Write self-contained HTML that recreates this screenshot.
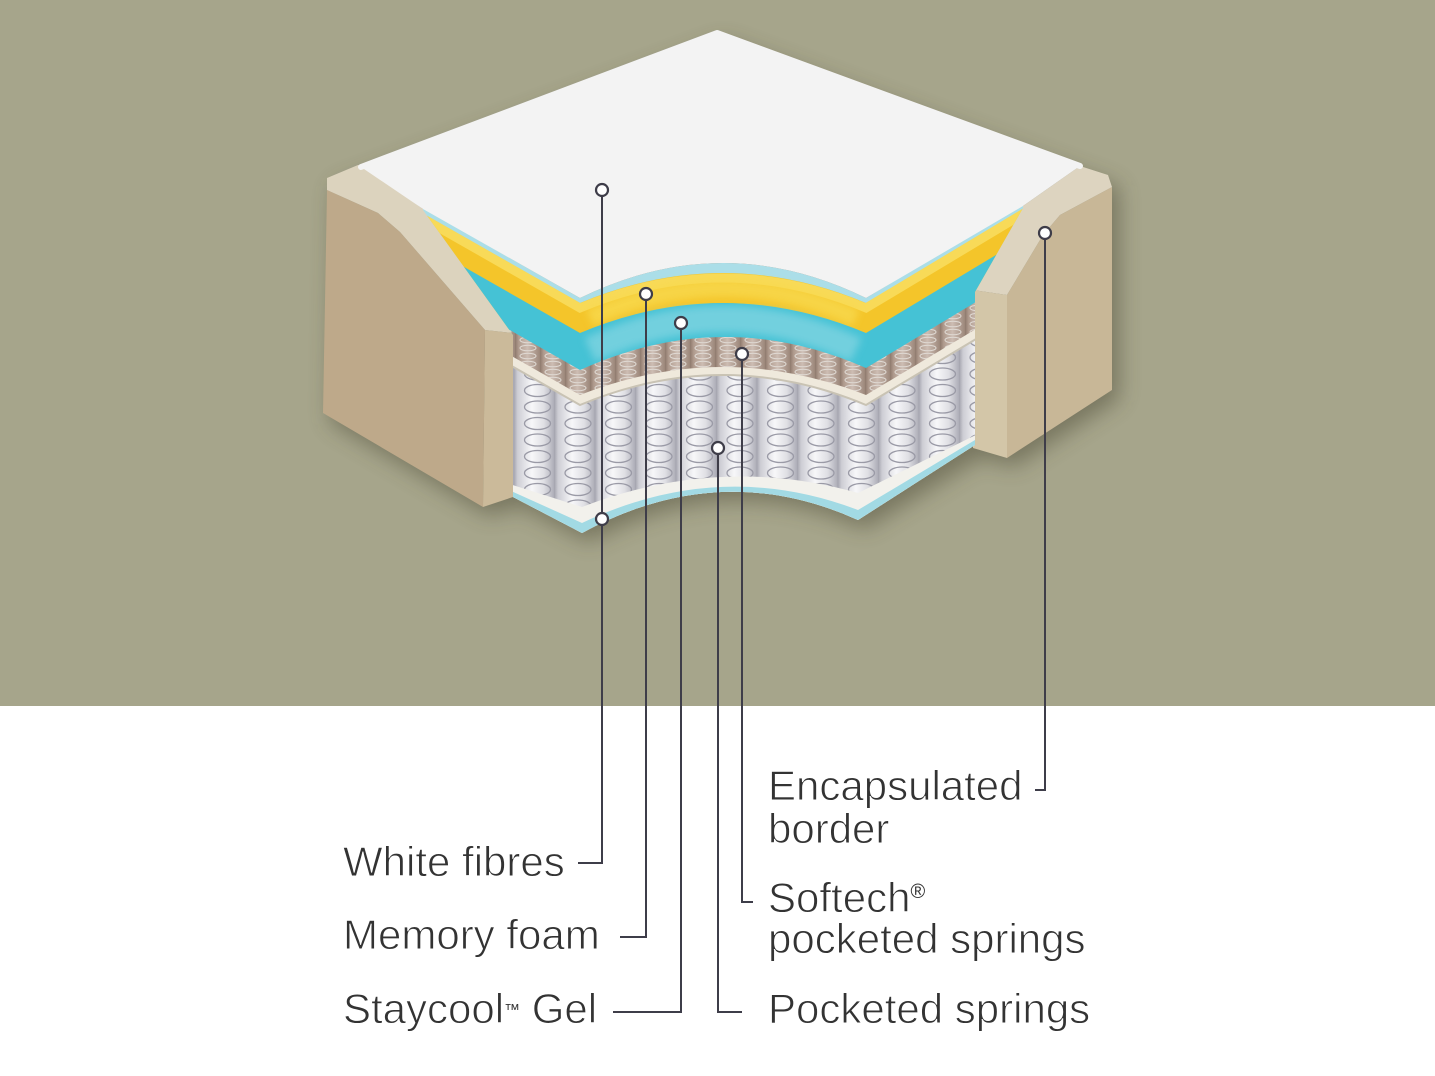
<!DOCTYPE html>
<html>
<head>
<meta charset="utf-8">
<style>
html,body{margin:0;padding:0;background:#fff;}
body{width:1435px;height:1076px;overflow:hidden;}
svg{display:block;}
text{font-family:"Liberation Sans",Arial,sans-serif;fill:#333333;font-size:42px;stroke:#ffffff;stroke-width:0.9px;}
</style>
</head>
<body>
<svg width="1435" height="1076" viewBox="0 0 1435 1076" xmlns="http://www.w3.org/2000/svg">
<defs>
  <clipPath id="cut">
    <path d="M423,150 L423,210 L513,335 L513,497 L582,533 Q720,457.5 858,520 L975,445 L975,292 L1023,208 L1023,150 Z"/>
  </clipPath>
  <filter id="blur" x="-20%" y="-20%" width="140%" height="140%">
    <feGaussianBlur stdDeviation="11"/>
  </filter>
  <filter id="soft6" x="-10%" y="-50%" width="120%" height="200%">
    <feGaussianBlur stdDeviation="4"/>
  </filter>
  <linearGradient id="cyl" x1="0" x2="1" y1="0" y2="0">
    <stop offset="0" stop-color="#a2a2ac"/>
    <stop offset=".1" stop-color="#cdcdd4"/>
    <stop offset=".45" stop-color="#f7f7f9"/>
    <stop offset=".75" stop-color="#dfdfe4"/>
    <stop offset="1" stop-color="#aeaeb8"/>
  </linearGradient>
  <pattern id="big" patternUnits="userSpaceOnUse" x="554" y="3" width="40.5" height="16.5">
    <rect width="40.5" height="16.5" fill="url(#cyl)"/>
    <ellipse cx="24" cy="8" rx="13" ry="6" fill="none" stroke="#9a9aa6" stroke-width="1.3"/>
  </pattern>
  <linearGradient id="cylb" x1="0" x2="1" y1="0" y2="0">
    <stop offset="0" stop-color="#8e796d"/>
    <stop offset=".15" stop-color="#b09b8e"/>
    <stop offset=".5" stop-color="#cdbdb3"/>
    <stop offset="1" stop-color="#9c877a"/>
  </linearGradient>
  <pattern id="soft" patternUnits="userSpaceOnUse" x="515" y="0" width="25" height="8">
    <rect width="25" height="8" fill="url(#cylb)"/>
    <ellipse cx="13" cy="4" rx="8" ry="2.8" fill="none" stroke="#e0dad4" stroke-width="1"/>
  </pattern>
</defs>

<!-- backgrounds -->
<rect x="0" y="0" width="1435" height="706" fill="#a6a58b"/>
<rect x="0" y="706" width="1435" height="370" fill="#ffffff"/>

<!-- drop shadow -->
<path d="M327,178 L717,32 L1112,178 L1112,390 L1007,458 L975,448 L858,520 Q720,457 582,533 L513,497 L483,507 L323,413 Z"
      transform="translate(7,9)" fill="#3f3e2c" opacity=".45" filter="url(#blur)"/>

<!-- LEFT BLOCK -->
<polygon points="327,190 378,213 400,232 485,330 483,507 323,413" fill="#bea98a"/>
<polygon points="485,330 513,333 513,497 483,507" fill="#cbba9a"/>
<polygon points="327,178 358,165 363,166 423,209 513,333 485,330 400,232 378,213 327,190" fill="#dcd3be"/>

<!-- RIGHT BLOCK -->
<polygon points="1007,295 1043,235 1060,215 1112,187 1112,390 1007,458" fill="#c8b797"/>
<polygon points="973,290 1007,295 1007,458 973,448" fill="#d3c6a8"/>
<polygon points="1080,166 1108,175 1112,187 1060,215 1043,235 1007,295 973,290 1023,206" fill="#ddd4c0"/>

<!-- LAYERS (clipped to the cut) -->
<g clip-path="url(#cut)">
  <!-- light blue under white -->
  <path d="M380,184 L580,298 Q723,228 866,298 L1066,178 L1066,650 L380,650 Z" fill="#abdee8"/>
  <!-- yellow memory foam -->
  <path d="M380,189 L580,303 Q723,243 866,303 L1066,183 L1066,650 L380,650 Z" fill="#f4c52a"/>
  <path d="M380,194 L580,308 Q723,248 866,308 L1066,188" fill="none" stroke="#f8da58" stroke-width="9"/>
  <path d="M590,318 Q723,258 856,318" fill="none" stroke="#f8d94e" stroke-width="18" opacity=".8" filter="url(#soft6)"/>
  <!-- gel -->
  <path d="M380,219 L580,333 Q723,273 866,333 L1066,213 L1066,650 L380,650 Z" fill="#45c2d5"/>
  <path d="M590,350 Q723,288 856,350" fill="none" stroke="#86d6e2" stroke-width="26" opacity=".7" filter="url(#soft6)"/>
  <!-- softech springs -->
  <path d="M380,256 L580,370 Q723,305 866,368 L1066,248 L1066,650 L380,650 Z" fill="url(#soft)"/>
  <!-- separator -->
  <path d="M380,281 L580,395 Q723,339 866,395 L1066,275 L1066,650 L380,650 Z" fill="#efe9dc"/>
  <!-- big pocketed springs -->
  <path d="M380,291 L580,405 Q723,345 866,405 L1066,285 L1066,650 L380,650 Z" fill="url(#big)"/>
  <path d="M380,291 L580,405 Q723,345 866,405 L1066,285" fill="none" stroke="#c9c3b4" stroke-width="2"/>
  <!-- base white -->
  <path d="M500,481 L582,507 Q720,454 858,493 L990,428 L990,650 L500,650 Z" fill="#f2f1ec"/>
  <!-- base blue -->
  <path d="M500,486 L582,523 Q720,457.5 858,510 L990,431 L990,650 L500,650 Z" fill="#a2dae4"/>
</g>

<!-- WHITE TOP -->
<path d="M717,33 L1080,166 L1023,206 L866,298 Q723,228 580,298 L423,209 L361,167 Z" fill="#f3f3f3"/>
<path d="M361,167 L717,33 L1080,166" fill="none" stroke="#f3f3f3" stroke-width="6" stroke-linejoin="round" stroke-linecap="round"/>

<!-- LEADER LINES -->
<g fill="none" stroke="#3e3d49" stroke-width="2">
  <path d="M602,190 V863 H578"/>
  <path d="M646,294 V937 H620"/>
  <path d="M681,323 V1012 H613"/>
  <path d="M718,448 V1012 H742"/>
  <path d="M742,354 V902 H753"/>
  <path d="M1045,233 V790 H1035"/>
</g>
<g fill="#ffffff" stroke="#3e3d49" stroke-width="2.2">
  <circle cx="602" cy="190" r="6"/>
  <circle cx="646" cy="294" r="6"/>
  <circle cx="681" cy="323" r="6"/>
  <circle cx="742" cy="354" r="6"/>
  <circle cx="718" cy="448" r="6"/>
  <circle cx="602" cy="519" r="6"/>
  <circle cx="1045" cy="233" r="6"/>
</g>

<!-- LABELS -->
<text x="343" y="876">White fibres</text>
<text x="343" y="949">Memory foam</text>
<text x="343" y="1023">Staycool<tspan font-size="16" dy="-8" stroke-width="0">™</tspan><tspan dy="8"> Gel</tspan></text>
<text x="768" y="800">Encapsulated</text>
<text x="768" y="843">border</text>
<text x="768" y="912">Softech<tspan font-size="20" dy="-14" stroke-width="0">®</tspan></text>
<text x="768" y="953">pocketed springs</text>
<text x="768" y="1023">Pocketed springs</text>
</svg>
</body>
</html>
